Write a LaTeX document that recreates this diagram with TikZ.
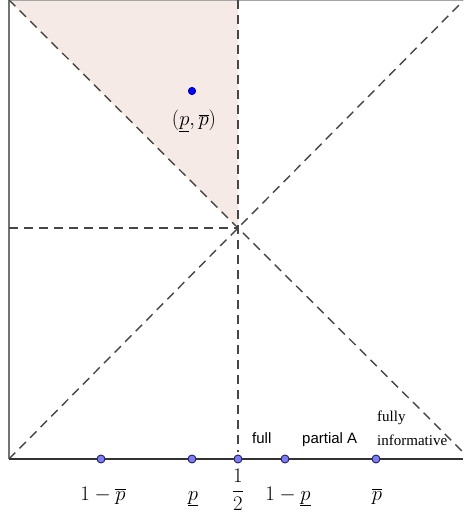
\documentclass[tikz,border=0pt]{standalone}
\usepackage{fontspec}
\newfontfamily\labsans{Liberation Sans}
\newfontfamily\labserif{Liberation Serif}
\usetikzlibrary{calc}
\definecolor{regionfill}{RGB}{245,234,230}
\definecolor{ptfill}{RGB}{125,125,240}
\definecolor{ptdraw}{RGB}{30,30,110}
\definecolor{dashgray}{RGB}{70,70,70}
\begin{document}
\begin{tikzpicture}[x=1pt,y=-1pt,
  dashline/.style={draw=dashgray, line width=1.4pt, dash pattern=on 9pt off 6pt},
  axpt/.style={circle, fill=ptfill, draw=ptdraw, line width=0.9pt, inner sep=0pt, minimum size=8pt},
  mainpt/.style={circle, fill=blue, draw=blue!60!black, line width=0.6pt, inner sep=0pt, minimum size=7.5pt},
  mathlab/.style={font=\fontsize{19.5}{22}\selectfont, inner sep=0pt},
  txtlab/.style={font=\labsans\fontsize{15}{18}\selectfont, inner sep=0pt},
  serlab/.style={font=\labserif\fontsize{15}{18}\selectfont, inner sep=0pt}]
\useasboundingbox (0,0) rectangle (463,516);
\fill[white] (0,0) rectangle (463,516);
% key coordinates
\coordinate (TL) at (9,0);
\coordinate (TR) at (463,0);
\coordinate (TM) at (238,0);
\coordinate (BL) at (9,459);
\coordinate (BR) at (463,459);
\coordinate (C) at (238,228);
\coordinate (LM) at (9,228);
% shaded region
\fill[regionfill] (TL) -- (TM) -- (C) -- cycle;
% frame
\draw[black!35, line width=0.8pt] (TL) -- (TR);
\draw[black!55, line width=1.4pt] (TL) -- (BL);
% dashed lines
\begin{scope}
\clip (9,0) rectangle (463,459);
\draw[dashline] (TL) -- ($(TL)!2.05!(C)$);
\draw[dashline] (BL) -- ($(BL)!2.05!(C)$);
\end{scope}
\draw[dashline] (TM) -- (238,452);
\draw[dashline] (LM) -- (C);
% axis
\draw[black!80, line width=1.4pt] (BL) -- (BR);
% points
\node[mainpt] (P) at (192,91) {};
\node[mathlab] (Plab) at (194,121) {$(\underline{p},\overline{p})$};
\node[axpt] (A1) at (101,459) {};
\node[axpt] (A2) at (192,459) {};
\node[axpt] (A3) at (238,459) {};
\node[axpt] (A4) at (285,459) {};
\node[axpt] (A5) at (376,459) {};
% axis labels
\node[mathlab, anchor=base] (L1) at (103,500) {$1-\overline{p}$};
\node[mathlab, anchor=base] (L2) at (193,500) {$\underline{p}$};
\node[mathlab] (L3) at (238,490) {$\displaystyle\frac{1}{2}$};
\node[mathlab, anchor=base] (L4) at (288,500) {$1-\underline{p}$};
\node[mathlab, anchor=base] (L5) at (377,500) {$\overline{p}$};
% region labels
\node[txtlab, anchor=base west] (R1) at (252,443) {full};
\node[txtlab, anchor=base west] (R2) at (302,443) {partial A};
\node[serlab, anchor=base west] (R3a) at (377,421) {fully};
\node[serlab, anchor=base west] (R3b) at (377,445) {informative};
\end{tikzpicture}
\end{document}
